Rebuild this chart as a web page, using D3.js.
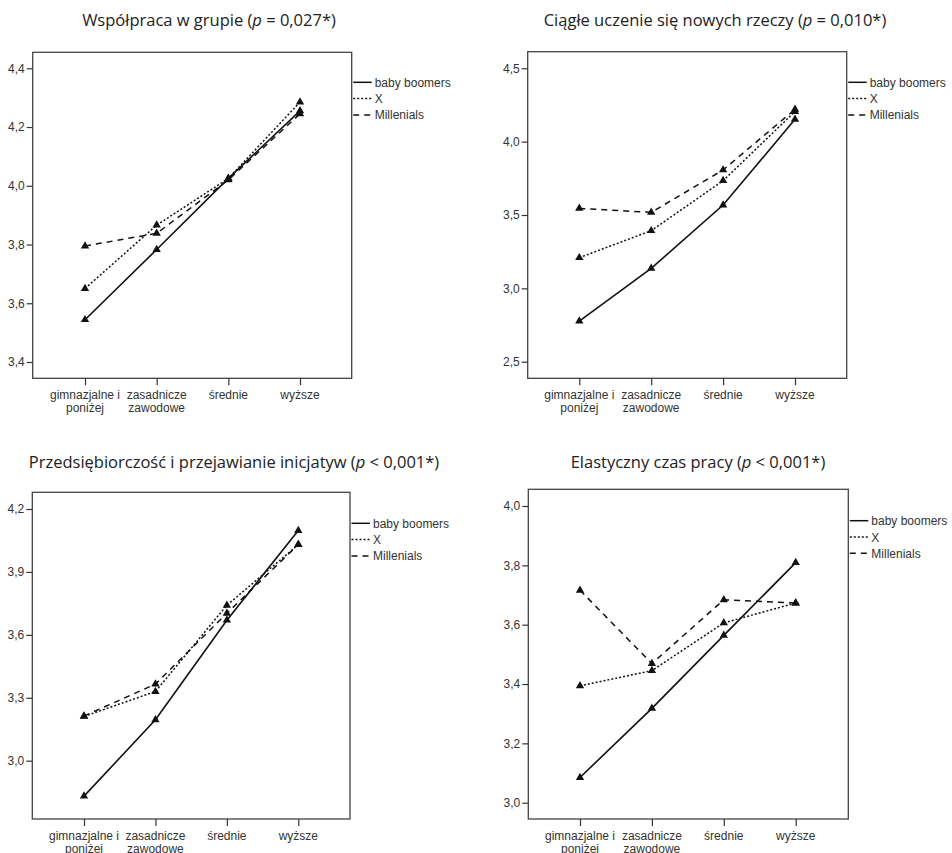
<!DOCTYPE html>
<html>
<head>
<meta charset="utf-8">
<script src="https://cdn.jsdelivr.net/npm/d3@7"></script>
<style>
  body { margin: 0; background: #fff; }
</style>
</head>
<body>
<div id="chart"></div>
<script>
// categories (x axis) and series
var categories = ["gimnazjalne i|poniżej", "zasadnicze|zawodowe", "średnie", "wyższe"];
var seriesNames = ["baby boomers", "X", "Millenials"];

// panel titles
var titles = [
  ["Współpraca w grupie (", "p", " = 0,027*)"],
  ["Ciągłe uczenie się nowych rzeczy (", "p", " = 0,010*)"],
  ["Przedsiębiorczość i przejawianie inicjatyw (", "p", " < 0,001*)"],
  ["Elastyczny czas pracy (", "p", " < 0,001*)"]
];

// y ticks per panel
var ticks1 = [3.4, 3.6, 3.8, 4.0, 4.2, 4.4];
var ticks2 = [2.5, 3.0, 3.5, 4.0, 4.5];
var ticks3 = [3.0, 3.3, 3.6, 3.9, 4.2];
var ticks4 = [3.0, 3.2, 3.4, 3.6, 3.8, 4.0];

// means: baby boomers, X, Millenials
var wspolpraca = [
  [3.544, 3.783, 4.025, 4.255],
  [3.650, 3.866, 4.025, 4.285],
  [3.795, 3.838, 4.020, 4.245]
];
var uczenie = [
  [2.777, 3.136, 3.568, 4.152],
  [3.209, 3.393, 3.734, 4.205],
  [3.545, 3.518, 3.807, 4.220]
];
var przedsiebiorczosc = [
  [2.831, 3.195, 3.670, 4.097],
  [3.211, 3.330, 3.741, 4.030],
  [3.213, 3.365, 3.703, 4.030]
];
var elastyczny = [
  [3.085, 3.318, 3.564, 3.809],
  [3.394, 3.445, 3.606, 3.673],
  [3.716, 3.469, 3.684, 3.673]
];

var dashes = [null, "2,2", "6,5"];

var svg = d3.select("#chart")
  .append("svg")
    .attr("width", 952)
    .attr("height", 853);

// layout of each panel (frame box, position of first/last tick & category)
var panels = [
  {title: titles[0], data: wspolpraca, ticks: ticks1,
   fx0: 32.7, fx1: 351.7, fy0: 52.3, fy1: 378.3, cx0: 85, cx1: 300,
   yLo: 362, yHi: 68.3, tx: 209, ty: 26, ly: 82.3},
  {title: titles[1], data: uczenie, ticks: ticks2,
   fx0: 527.7, fx1: 846.7, fy0: 51.7, fy1: 378.3, cx0: 579.3, cx1: 795,
   yLo: 361.7, yHi: 68.3, tx: 715, ty: 26, ly: 82.3},
  {title: titles[2], data: przedsiebiorczosc, ticks: ticks3,
   fx0: 32.3, fx1: 350, fy0: 492.3, fy1: 819, cx0: 84, cx1: 298.3,
   yLo: 760.7, yHi: 509, tx: 234, ty: 468, ly: 523.3},
  {title: titles[3], data: elastyczny, ticks: ticks4,
   fx0: 528.3, fx1: 848.3, fy0: 489.3, fy1: 819, cx0: 580, cx1: 795.7,
   yLo: 802.7, yHi: 506, tx: 698, ty: 468, ly: 520.7}
];

var fmt = function(v) { return d3.format(".1f")(v).replace(".", ","); };

panels.forEach(function(p) {
  var g = svg.append("g");

  var x = d3.scalePoint()
    .domain(categories)
    .range([p.cx0, p.cx1]);

  var t = p.ticks;
  var y = d3.scaleLinear()
    .domain([t[0], t[t.length - 1]])
    .range([p.yLo, p.yHi]);

  // title
  var title = g.append("text")
    .attr("x", p.tx)
    .attr("y", p.ty)
    .attr("text-anchor", "middle")
    .style("font-family", "'Open Sans', sans-serif")
    .style("font-size", "16.5px")
    .style("fill", "#222");
  title.append("tspan").text(p.title[0]);
  title.append("tspan").style("font-style", "italic").text(p.title[1]);
  title.append("tspan").text(p.title[2]);

  // frame
  g.append("rect")
    .attr("x", p.fx0)
    .attr("y", p.fy0)
    .attr("width", p.fx1 - p.fx0)
    .attr("height", p.fy1 - p.fy0)
    .style("fill", "none")
    .style("stroke", "#444")
    .style("stroke-width", 1.3);

  // y axis
  var yAxis = g.append("g")
    .attr("transform", "translate(" + p.fx0 + ",0)")
    .call(d3.axisLeft(y).tickValues(t).tickFormat(fmt).tickSize(6).tickPadding(2));
  yAxis.select(".domain").remove();

  // x axis
  var xAxis = g.append("g")
    .attr("transform", "translate(0," + p.fy1 + ")")
    .call(d3.axisBottom(x).tickSize(7).tickFormat(""));
  xAxis.select(".domain").remove();

  [yAxis, xAxis].forEach(function(a) {
    a.selectAll("line").style("stroke", "#333").style("stroke-width", 1.2);
    a.selectAll("text")
      .style("font-family", "'Liberation Sans', Arial, sans-serif")
      .style("font-size", "12px")
      .style("fill", "#333");
  });

  // x labels, two lines
  categories.forEach(function(c) {
    var lines = c.split("|");
    var lab = g.append("text")
      .attr("x", x(c))
      .attr("y", p.fy1 + 21)
      .attr("text-anchor", "middle")
      .style("font-family", "'Liberation Sans', Arial, sans-serif")
      .style("font-size", "12px")
      .style("fill", "#333");
    lines.forEach(function(l, i) {
      lab.append("tspan")
        .attr("x", x(c))
        .attr("dy", i === 0 ? 0 : 12.5)
        .text(l);
    });
  });

  // lines + markers
  var line = d3.line()
    .x(function(d, i) { return x(categories[i]); })
    .y(function(d) { return y(d); });

  p.data.forEach(function(s, k) {
    g.append("path")
      .datum(s)
      .attr("d", line)
      .style("fill", "none")
      .style("stroke", "#111")
      .style("stroke-width", k === 0 ? 1.6 : 1.5)
      .style("stroke-dasharray", dashes[k]);
  });

  p.data.forEach(function(s) {
    g.selectAll(null)
      .data(s)
      .enter()
      .append("path")
        .attr("d", d3.symbol().type(d3.symbolTriangle).size(30))
        .attr("transform", function(d, i) {
          return "translate(" + x(categories[i]) + "," + y(d) + ")";
        })
        .style("fill", "#111");
  });

  // legend
  seriesNames.forEach(function(n, k) {
    var ly = p.ly + k * 16.3;
    g.append("line")
      .attr("x1", p.fx1 + 1.5)
      .attr("x2", p.fx1 + 20)
      .attr("y1", ly)
      .attr("y2", ly)
      .style("stroke", "#111")
      .style("stroke-width", 1.5)
      .style("stroke-dasharray", dashes[k]);
    g.append("text")
      .attr("x", p.fx1 + 23)
      .attr("y", ly + 4.5)
      .text(n)
      .style("font-family", "'Liberation Sans', Arial, sans-serif")
      .style("font-size", "12px")
      .style("fill", "#333");
  });
});
</script>
</body>
</html>
